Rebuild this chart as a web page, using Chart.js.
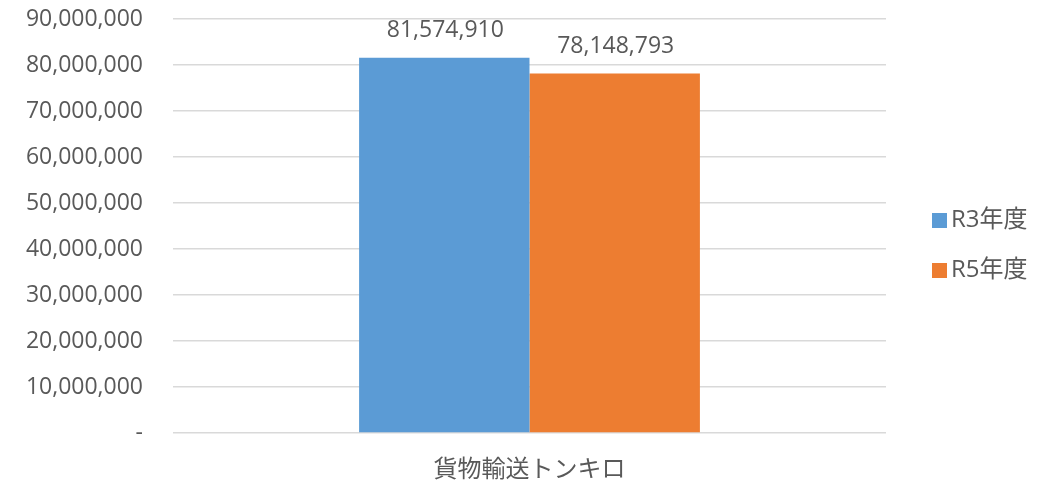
<!DOCTYPE html>
<html>
<head>
<meta charset="utf-8">
<script src="https://cdn.jsdelivr.net/npm/chart.js@4"></script>
<style>
  html, body { margin: 0; padding: 0; background: #fff; }
  #wrap { width: 1044px; height: 480px; }
</style>
</head>
<body>
<div id="wrap"><canvas id="chart" width="1044" height="480"></canvas></div>
<script>
// Chart data
const categories = ['貨物輸送トンキロ'];
const seriesNames = ['R3年度', 'R5年度'];
const r3Values = [81574910];
const r5Values = [78148793];
const yMin = 0;
const yMax = 90000000;
const yStep = 10000000;

const FONT = "'Open Sans', 'Noto Sans CJK JP', sans-serif";
const TEXT = '#595959';
const colors = ['#5B9BD5', '#ED7D31'];

function fmt(v) {
  return v === 0 ? '-' : v.toLocaleString('en-US');
}

// Value labels over the bars
const valueLabels = {
  id: 'valueLabels',
  afterDatasetsDraw(chart) {
    const ctx = chart.ctx;
    ctx.save();
    ctx.font = '23px ' + FONT;
    ctx.fillStyle = TEXT;
    ctx.textAlign = 'center';
    ctx.textBaseline = 'middle';
    chart.data.datasets.forEach((ds, i) => {
      chart.getDatasetMeta(i).data.forEach((bar, j) => {
        ctx.fillText(fmt(ds.data[j]), bar.x + 1, bar.y - 27);
      });
    });
    ctx.restore();
  }
};

// Legend at the right, drawn by hand
const sideLegend = {
  id: 'sideLegend',
  afterDraw(chart) {
    const ctx = chart.ctx;
    ctx.save();
    ctx.font = '24px ' + FONT;
    ctx.textBaseline = 'middle';
    ctx.textAlign = 'left';
    chart.data.datasets.forEach((ds, i) => {
      const cy = 220.5 + i * 50;
      ctx.fillStyle = ds.backgroundColor;
      ctx.fillRect(932, cy - 7.5, 15, 15);
      ctx.fillStyle = TEXT;
      ctx.fillText(ds.label, 951, cy);
    });
    ctx.restore();
  }
};

new Chart(document.getElementById('chart'), {
  type: 'bar',
  data: {
    labels: categories,
    datasets: [
      { label: seriesNames[0], data: r3Values, backgroundColor: colors[0] },
      { label: seriesNames[1], data: r5Values, backgroundColor: colors[1] }
    ]
  },
  options: {
    responsive: false,
    animation: false,
    layout: { padding: { left: 0, right: 158, top: 19, bottom: 0 } },
    plugins: {
      legend: { display: false },
      tooltip: { enabled: false }
    },
    datasets: {
      bar: { categoryPercentage: 0.478, barPercentage: 1.0 }
    },
    scales: {
      x: {
        grid: { display: false },
        border: { display: false },
        ticks: {
          color: TEXT,
          font: { family: FONT, size: 24 },
          padding: 15
        },
        afterFit(scale) { scale.height = 47; }
      },
      y: {
        min: yMin,
        max: yMax,
        border: { display: false },
        grid: { color: '#D9D9D9', lineWidth: 1.5, drawTicks: false },
        ticks: {
          stepSize: yStep,
          color: TEXT,
          font: { family: FONT, size: 23 },
          padding: 30,
          callback: (v) => fmt(v)
        },
        afterFit(scale) {
          // tick padding would otherwise be added above the top label
          scale.width = 173;
          scale.paddingTop = 0;
          scale.paddingBottom = 0;
        }
      }
    }
  },
  plugins: [valueLabels, sideLegend]
});
</script>
</body>
</html>
